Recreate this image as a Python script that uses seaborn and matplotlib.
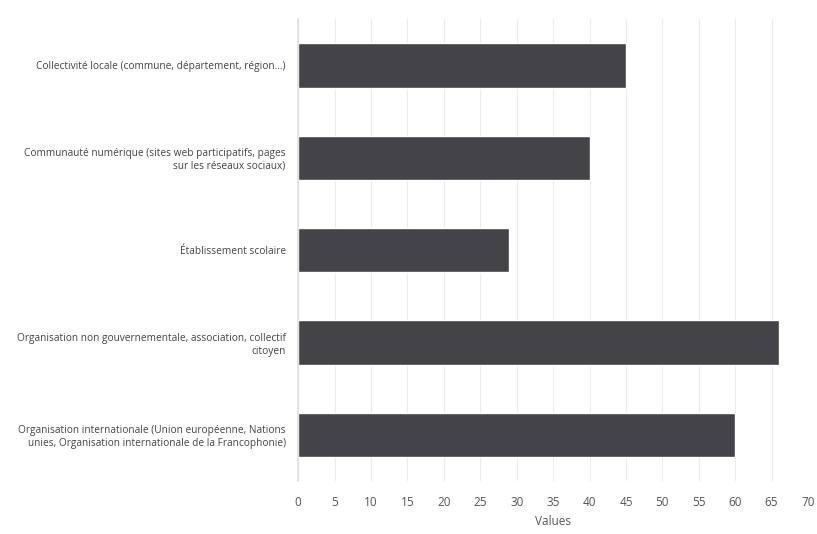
import matplotlib
matplotlib.use("Agg")
import matplotlib.pyplot as plt
import seaborn as sns
import pandas as pd

# catégories et valeurs
categories = [
    "Collectivité locale (commune, département, région...)",
    "Communauté numérique (sites web participatifs, pages\nsur les réseaux sociaux)",
    "Établissement scolaire",
    "Organisation non gouvernementale, association, collectif\ncitoyen",
    "Organisation internationale (Union européenne, Nations\nunies, Organisation internationale de la Francophonie)",
]
values = [45, 40, 29, 66, 60]
x_ticks = list(range(0, 75, 5))

df = pd.DataFrame({"categorie": categories, "valeur": values})

sns.set_theme(style="whitegrid")
plt.rcParams['font.family'] = ['Open Sans', 'DejaVu Sans']

fig = plt.figure(figsize=(8.17, 5.34), dpi=100)
ax = fig.add_axes([0.365, 0.099, 0.624, 0.865])

sns.barplot(data=df, x="valeur", y="categorie", color="#444448",
            saturation=1, width=0.48, ax=ax)

ax.set_xlim(0, 70)
ax.set_ylim(4.5, -0.5)
ax.set_xticks(x_ticks)
ax.set_xlabel("Values", fontsize=8.5, color="#555555", labelpad=4)
ax.set_ylabel("")
ax.tick_params(axis="x", labelsize=8.5, colors="#555555", length=5, color="#e6e6e6", pad=6)
ax.tick_params(axis="y", labelsize=7.3, colors="#444444", length=0, pad=9)
for lab in ax.get_yticklabels():
    lab.set_horizontalalignment("right")
    lab.set_multialignment("right")

ax.grid(axis="x", color="#ebebf0", linewidth=0.8)
ax.grid(axis="y", visible=False)
for side in ["top", "right", "bottom"]:
    ax.spines[side].set_visible(False)
ax.spines["left"].set_color("#e0e0e0")

fig.savefig("out.png", dpi=100)
